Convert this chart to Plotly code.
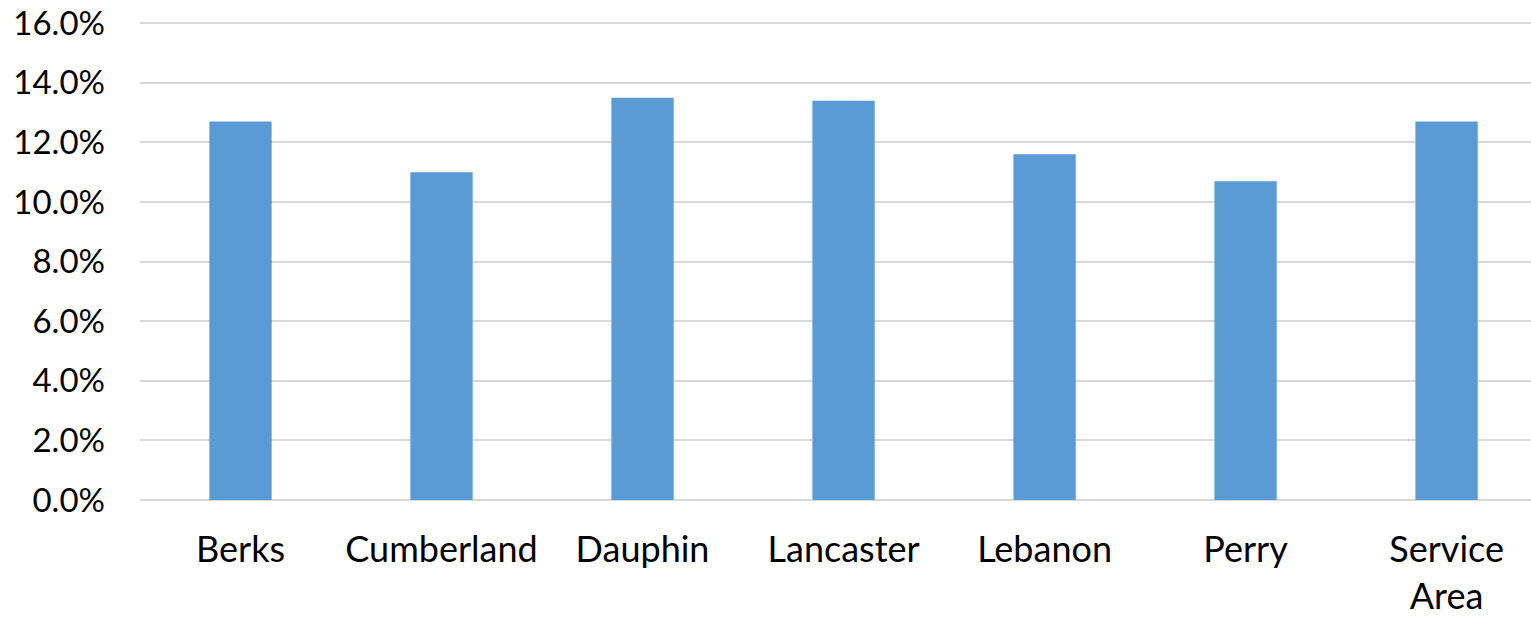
import plotly.graph_objects as go

categories = ["Berks", "Cumberland", "Dauphin", "Lancaster", "Lebanon", "Perry", "Service<br>Area"]
values = [0.127, 0.110, 0.135, 0.134, 0.116, 0.107, 0.127]
y_ticks = [0, 0.02, 0.04, 0.06, 0.08, 0.10, 0.12, 0.14, 0.16]

font_family = "Lato, Calibri, Carlito, sans-serif"

fig = go.Figure(go.Bar(
    x=categories,
    y=values,
    marker=dict(color="#5B9BD5", line=dict(width=0)),
    width=0.31,
))

fig.update_layout(
    width=1531,
    height=619,
    margin=dict(l=140, r=0, t=22, b=119),
    paper_bgcolor="white",
    plot_bgcolor="white",
    showlegend=False,
    font=dict(family=font_family, size=32, color="#000000"),
    xaxis=dict(
        range=[-0.5, 6.42],
        showgrid=False,
        showline=False,
        ticks="",
        tickfont=dict(size=36),
        ticklabelstandoff=25,
        automargin=False,
    ),
    yaxis=dict(
        range=[0, 0.1604],
        tickvals=y_ticks,
        tickformat=".1%",
        showgrid=True,
        gridcolor="#D9D9D9",
        gridwidth=2,
        zeroline=True,
        zerolinecolor="#D9D9D9",
        zerolinewidth=2,
        showline=False,
        ticks="",
        tickfont=dict(size=33),
        ticklabelstandoff=34,
        automargin=False,
    ),
)

fig.write_html(
    "out.html",
    config={"displayModeBar": False},
    post_script="document.body.style.margin='0';document.body.style.overflow='hidden';",
)
